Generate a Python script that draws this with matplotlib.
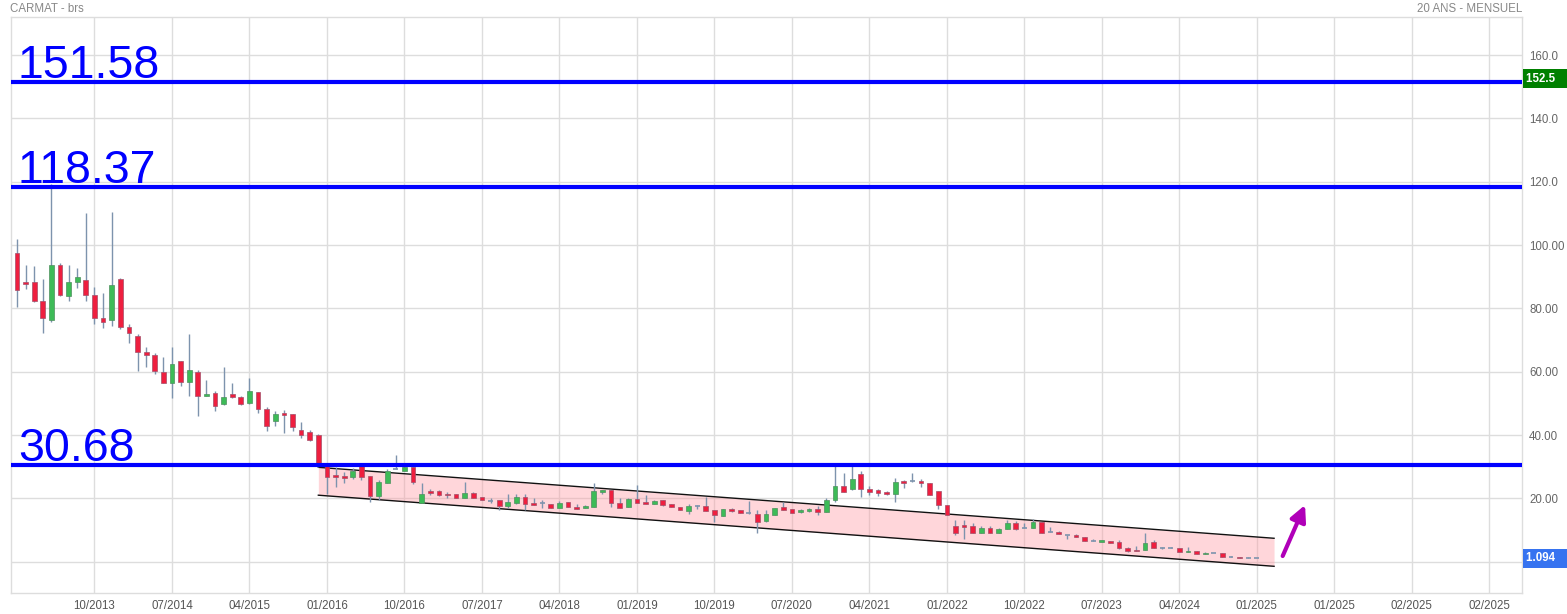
import matplotlib
matplotlib.use("Agg")
import matplotlib.pyplot as plt
import numpy as np

plt.rcParams['font.family'] = ['Liberation Sans', 'DejaVu Sans']

# ---- data (monthly candles, month index 0 = 10/2013) ----
month_index = list(range(-9, 136))
opens = [97.4, 88.2, 88.2, 82.2, 76.2, 93.6, 84.0, 88.2, 89.0,
         84.1, 76.9, 76.2, 89.2, 74.0, 71.2, 66.1, 65.2, 60.0, 56.3,
         63.3, 56.8, 60.0, 52.2, 53.2, 49.9, 53.0, 51.9, 50.2, 53.5,
         48.1, 44.3, 47.0, 46.5, 41.5, 40.9, 39.9, 30.5, 27.4, 27.0,
         26.8, 30.3, 27.0, 20.7, 24.9, 29.3, 28.7, 29.8, 18.6, 22.3,
         22.2, 21.5, 21.3, 20.0, 21.7, 20.3, 19.3, 19.4, 17.5, 18.6,
         20.3, 18.6, 18.4, 18.2, 17.1, 18.8, 17.3, 16.9, 17.4, 22.1,
         22.6, 18.5, 17.4, 19.8, 18.9, 18.3, 19.5, 18.1, 17.2, 16.1,
         17.6, 17.5, 16.2, 14.5, 16.5, 16.2, 15.3, 15.1, 12.9, 14.7,
         17.2, 16.5, 15.6, 16.1, 16.5, 15.8, 19.4, 23.9, 22.9, 27.6,
         22.9, 22.5, 22.0, 21.5, 25.5, 25.4, 25.5, 24.9, 22.2, 17.8,
         11.2, 11.5, 11.2, 9.2, 10.5, 9.2, 10.4, 12.2, 10.6, 10.7,
         12.5, 9.3, 9.4, 8.4, 8.5, 7.7, 6.5, 6.3, 6.5, 6.2,
         4.2, 3.7, 3.6, 6.1, 4.3, 4.2, 4.2, 3.0, 3.4, 2.4,
         2.7, 2.6, 1.4, 1.4, 1.2, 1.1]
highs = [101.9, 93.7, 93.4, 89.3, 119.2, 94.3, 93.7, 92.7, 110.1,
         86.6, 84.7, 110.4, 89.6, 75.0, 71.9, 67.8, 65.9, 64.6, 67.8,
         63.3, 71.9, 60.5, 57.4, 53.9, 61.5, 56.4, 52.2, 58.0, 53.5,
         48.7, 47.5, 47.8, 46.5, 44.1, 41.5, 40.2, 31.0, 29.8, 28.4,
         29.5, 30.5, 27.0, 25.8, 29.3, 33.7, 30.3, 29.8, 24.8, 22.9,
         22.7, 22.0, 21.3, 25.3, 22.0, 20.3, 20.0, 19.4, 21.5, 21.5,
         21.5, 20.0, 19.5, 18.2, 19.2, 18.8, 18.3, 17.9, 24.8, 22.6,
         22.6, 20.0, 20.2, 24.2, 21.0, 19.4, 19.5, 18.3, 17.4, 18.2,
         17.9, 20.5, 16.2, 16.5, 17.0, 16.2, 19.1, 16.3, 16.3, 17.0,
         18.9, 16.8, 16.6, 17.0, 17.6, 20.1, 30.2, 27.9, 30.2, 28.6,
         24.0, 22.9, 22.4, 26.5, 25.8, 27.9, 26.1, 24.9, 22.2, 17.8,
         13.2, 13.2, 12.2, 11.2, 11.2, 10.8, 13.2, 12.8, 12.3, 13.6,
         12.5, 11.1, 9.6, 8.4, 8.6, 7.7, 7.1, 7.0, 6.5, 7.0,
         4.7, 5.1, 9.2, 6.8, 4.6, 4.5, 4.2, 4.8, 3.4, 3.1,
         2.9, 2.6, 1.7, 1.4, 1.5, 1.2]
lows = [80.3, 86.2, 82.0, 72.3, 75.8, 84.0, 82.4, 86.5, 82.4,
        75.2, 73.9, 74.5, 73.4, 69.2, 60.3, 61.6, 59.4, 56.3, 51.8,
        55.6, 52.4, 46.1, 52.2, 47.7, 49.4, 51.6, 49.5, 49.7, 47.0,
        41.4, 42.9, 40.5, 41.4, 39.0, 38.0, 30.0, 21.4, 23.5, 24.8,
        26.2, 25.8, 18.9, 19.5, 24.8, 29.3, 28.5, 24.5, 18.6, 21.2,
        20.6, 20.0, 20.0, 20.0, 20.0, 19.4, 18.4, 16.2, 16.9, 18.2,
        16.3, 17.9, 16.9, 16.9, 17.1, 17.2, 16.7, 16.9, 17.4, 21.5,
        17.4, 17.1, 17.4, 18.6, 18.3, 18.3, 17.6, 17.4, 16.4, 15.1,
        16.8, 16.1, 12.6, 14.3, 15.6, 15.3, 15.0, 9.0, 12.4, 14.7,
        16.4, 15.5, 15.4, 15.6, 14.9, 15.8, 19.0, 22.1, 22.5, 20.3,
        21.0, 20.8, 21.1, 18.9, 23.2, 25.2, 23.6, 21.2, 16.5, 14.7,
        8.5, 7.3, 9.2, 9.2, 9.2, 9.2, 10.4, 10.0, 10.6, 10.7,
        9.2, 9.3, 8.7, 7.3, 7.7, 6.4, 6.5, 6.3, 6.0, 3.9,
        3.0, 3.3, 3.6, 4.3, 4.1, 4.2, 3.0, 3.0, 2.4, 2.4,
        2.7, 1.4, 1.4, 1.1, 1.2, 1.1]
closes = [85.8, 87.6, 82.2, 77.0, 93.6, 84.3, 88.2, 89.8, 84.1,
          77.0, 75.8, 87.3, 74.1, 72.3, 66.1, 65.2, 60.3, 56.3, 62.3,
          56.8, 60.4, 52.2, 53.0, 49.1, 51.9, 51.9, 49.7, 53.8, 48.1,
          42.8, 46.5, 46.4, 42.4, 40.0, 38.4, 30.5, 26.8, 26.6, 26.3,
          28.6, 26.8, 20.7, 25.2, 28.8, 29.3, 29.9, 25.3, 21.5, 21.8,
          21.2, 21.0, 20.0, 21.6, 20.0, 19.4, 19.3, 17.5, 18.9, 20.3,
          18.1, 17.9, 18.4, 16.9, 18.5, 17.2, 16.7, 17.6, 22.2, 22.6,
          18.4, 17.1, 19.8, 18.6, 18.3, 19.2, 18.0, 17.4, 16.4, 17.6,
          17.6, 16.1, 14.7, 16.5, 16.1, 15.3, 15.3, 12.6, 15.1, 16.9,
          16.4, 15.5, 16.3, 16.5, 15.8, 19.4, 23.8, 22.1, 26.0, 22.9,
          22.1, 21.8, 21.5, 25.1, 24.9, 25.4, 24.8, 21.2, 17.8, 14.7,
          9.2, 10.9, 9.2, 10.5, 9.2, 10.3, 12.1, 10.4, 10.6, 12.5,
          9.2, 9.3, 8.7, 8.4, 7.7, 6.4, 6.5, 6.9, 6.0, 4.2,
          3.5, 3.3, 5.9, 4.3, 4.3, 4.2, 3.0, 3.4, 2.4, 2.8,
          2.7, 1.4, 1.4, 1.1, 1.2, 1.094]

level_values = [151.58, 118.37, 30.68]
level_labels = ["151.58", "118.37", "30.68"]

channel_x = [26, 137]
channel_upper = [29.8, 7.4]
channel_lower = [21.0, -1.45]

arrow_tail = (138.0, 1.8)
arrow_head = (140.6, 17.9)

xtick_pos = list(range(0, 163, 9))
xtick_labels = ["10/2013", "07/2014", "04/2015", "01/2016", "10/2016", "07/2017",
                "04/2018", "01/2019", "10/2019", "07/2020", "04/2021", "01/2022",
                "10/2022", "07/2023", "04/2024", "01/2025", "01/2025", "02/2025", "02/2025"]
ytick_pos = [0, 20, 40, 60, 80, 100, 120, 140, 160]
ytick_labels = ["", "20.00", "40.00", "60.00", "80.00", "100.00", "120.0", "140.0", "160.0"]

last_price = "1.094"
top_price = "152.5"
top_price_value = 152.5
last_price_value = 1.094

# ---- figure ----
W, H = 1567, 614
fig = plt.figure(figsize=(W / 100, H / 100), dpi=100)
ax = fig.add_axes([10.7 / W, 1 - 593 / H, (1522.3 - 10.7) / W, (593 - 17) / H])
ax.set_xlim(-9.73, 165.83)
ax.set_ylim(-9.88, 172.0)

grid_c = "#dddddd"
for s in ax.spines.values():
    s.set_color(grid_c)
    s.set_linewidth(1)
ax.set_axisbelow(True)
ax.grid(True, color=grid_c, linewidth=1, zorder=0)

ax.yaxis.tick_right()
ax.set_yticks(ytick_pos)
ax.set_yticklabels(ytick_labels, fontsize=8.3, color="#666666")
ax.set_xticks(xtick_pos)
ax.set_xticklabels(xtick_labels, fontsize=8.3, color="#555555")
ax.tick_params(axis="both", length=0)
ax.tick_params(axis="x", pad=5)
ax.tick_params(axis="y", pad=5)

# channel
cx = np.array(channel_x, dtype=float)
ax.fill_between(cx, channel_lower, channel_upper, color="#ff9aa3", alpha=0.4,
                linewidth=0, zorder=1)
ax.plot(cx, channel_upper, color="#111111", lw=1, zorder=2)
ax.plot(cx, channel_lower, color="#111111", lw=1, zorder=2)

# candles
wick_c = "#7d93ad"
red, green = "#ee1f3f", "#3dbb57"
x = np.array(month_index, dtype=float)
o = np.array(opens); h = np.array(highs); l = np.array(lows); c = np.array(closes)
ax.vlines(x, l, h, color=wick_c, lw=1, zorder=3)
bw = 0.55
for xi, oi, ci in zip(x, o, c):
    if abs(ci - oi) < 0.15:
        ax.hlines(oi, xi - bw / 2, xi + bw / 2, color=wick_c, lw=1.2, zorder=4)
    else:
        col = green if ci > oi else red
        ax.bar(xi, abs(ci - oi), bottom=min(oi, ci), width=bw, color=col,
               edgecolor="#a3506a" if col == red else "#4f8f5f", linewidth=0.5, zorder=4)

# levels
for v, lab in zip(level_values, level_labels):
    ax.axhline(v, color="#0000ff", lw=3, zorder=6)
    ax.text(-8.9, v + 1.2, lab, fontsize=33.5, color="#0000ff", va="baseline",
            ha="left", zorder=7)

# arrow
ax.annotate("", xy=arrow_head, xytext=arrow_tail,
            arrowprops=dict(arrowstyle="-|>", color="#b000b8", lw=3,
                            mutation_scale=24, shrinkA=0, shrinkB=0), zorder=8)

# price boxes on right axis
ax.annotate(top_price + "   ", xy=(1.0, top_price_value), xycoords=("axes fraction", "data"),
            xytext=(3, 0), textcoords="offset points", ha="left", va="center",
            fontsize=8.3, color="white", fontweight="bold",
            bbox=dict(boxstyle="square,pad=0.3", fc="#008000", ec="none"),
            annotation_clip=False)
ax.annotate(last_price + "   ", xy=(1.0, last_price_value), xycoords=("axes fraction", "data"),
            xytext=(3, 0), textcoords="offset points", ha="left", va="center",
            fontsize=8.3, color="white", fontweight="bold",
            bbox=dict(boxstyle="square,pad=0.3", fc="#3673f0", ec="none"),
            annotation_clip=False)

# titles
fig.text(10 / W, 1 - 9 / H, "CARMAT - brs", fontsize=8.3, color="#888888", va="center", ha="left")
fig.text(1522 / W, 1 - 9 / H, "20 ANS - MENSUEL", fontsize=8.3, color="#888888", va="center", ha="right")

fig.savefig("out.png", dpi=100)
